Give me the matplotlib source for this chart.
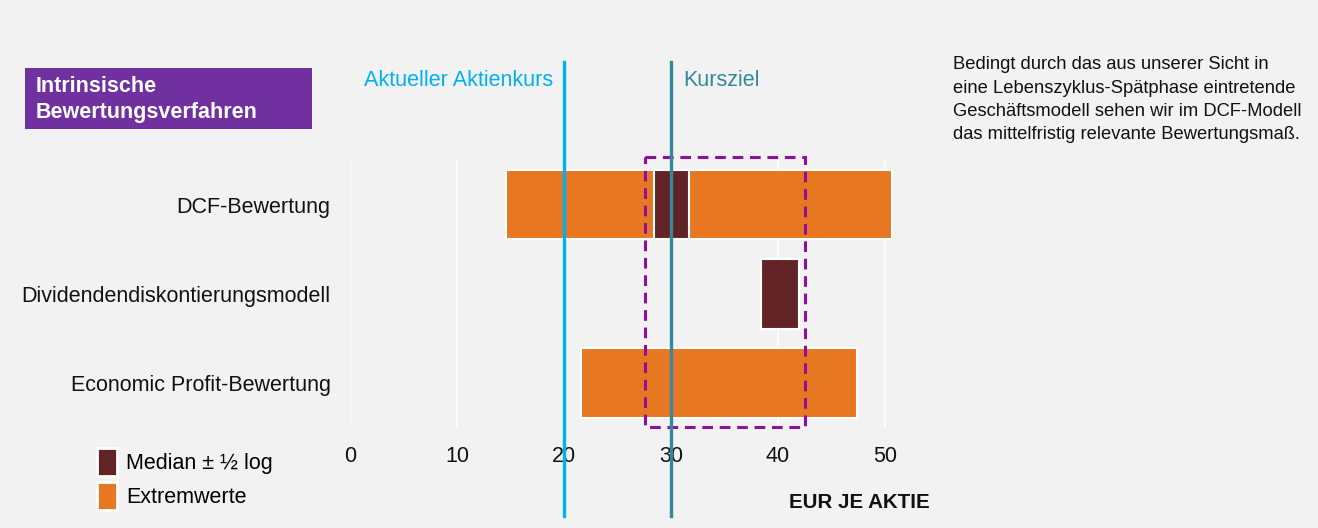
import matplotlib
matplotlib.use('Agg')
import matplotlib.pyplot as plt
import numpy as np
from matplotlib.patches import Patch, Rectangle

# ── Daten ────────────────────────────────────────────────
categories = ['DCF-Bewertung', 'Dividendendiskontierungsmodell', 'Economic Profit-Bewertung']
extreme_low = [14.6, np.nan, 21.6]
extreme_high = [50.7, np.nan, 47.4]
median_low = [28.4, 38.4, np.nan]
median_high = [31.7, 42.0, np.nan]
x_ticks = [0, 10, 20, 30, 40, 50]
current_price = 20.0
target_price = 30.0
target_range = (27.6, 42.5)

# ── Farben ───────────────────────────────────────────────
COLORS = {
    'orange': '#E87722',
    'maroon': '#622326',
    'blue': '#00B0F0',
    'teal': '#35889A',
    'dash': '#8C0FA0',
    'purple': '#7030A0',
    'bg': '#F2F2F2',
    'text': '#111111',
}

plt.rcParams['font.family'] = ['Liberation Sans', 'DejaVu Sans']
FS = 15.5

fig = plt.figure(figsize=(13.18, 5.28), dpi=100, facecolor=COLORS['bg'])
ax = fig.add_axes([0.2656, 0.1894, 0.4219, 0.5076], facecolor=COLORS['bg'])

y = np.arange(len(categories))
ext_lo = np.array(extreme_low)
ext_hi = np.array(extreme_high)
med_lo = np.array(median_low)
med_hi = np.array(median_high)

ax.barh(y, ext_hi - ext_lo, left=ext_lo, height=0.78, color=COLORS['orange'],
        edgecolor='white', linewidth=1.5, zorder=2)
ax.barh(y, med_hi - med_lo, left=med_lo, height=0.78, color=COLORS['maroon'],
        edgecolor='white', linewidth=1.5, zorder=3)

ax.set_xlim(0, 52)
ax.set_ylim(len(categories) - 0.5, -0.5)
ax.set_xticks(x_ticks)
ax.set_yticks(y)
ax.set_yticklabels(categories)
ax.tick_params(axis='both', length=0, labelsize=FS, colors=COLORS['text'])
ax.tick_params(axis='y', pad=14)
ax.tick_params(axis='x', pad=13)
for s in ax.spines.values():
    s.set_visible(False)
ax.grid(axis='x', color='white', linewidth=1.2, zorder=0)
ax.set_axisbelow(True)

# Zielbereich (gestrichelt)
ax.add_patch(Rectangle((target_range[0], -0.53), target_range[1] - target_range[0], 3.02,
                       fill=False, edgecolor=COLORS['dash'], linewidth=2.2,
                       linestyle=(0, (3.5, 2.2)), zorder=4, clip_on=False))

# Kurslinien
ax.axvline(current_price, ymin=-0.33, ymax=1.365, color=COLORS['blue'], linewidth=2.4,
           zorder=5, clip_on=False)
ax.axvline(target_price, ymin=-0.33, ymax=1.365, color=COLORS['teal'], linewidth=2.4,
           zorder=5, clip_on=False)
trans = ax.get_xaxis_transform()
ax.text(current_price - 1.0, 1.298, 'Aktueller Aktienkurs', transform=trans, ha='right',
        va='center', fontsize=FS, color=COLORS['blue'])
ax.text(target_price + 1.2, 1.298, 'Kursziel', transform=trans, ha='left',
        va='center', fontsize=FS, color=COLORS['teal'])

# Titelbox
fig.patches.append(Rectangle((0.019, 0.7557), 0.2178, 0.1155, transform=fig.transFigure,
                             facecolor=COLORS['purple'], edgecolor='none', zorder=0))
fig.text(0.0273, 0.812, 'Intrinsische\nBewertungsverfahren', ha='left', va='center',
         fontsize=FS, fontweight='bold', color='white', linespacing=1.32)

# Kommentar rechts
fig.text(0.723, 0.893,
         'Bedingt durch das aus unserer Sicht in\n'
         'eine Lebenszyklus-Spätphase eintretende\n'
         'Geschäftsmodell sehen wir im DCF-Modell\n'
         'das mittelfristig relevante Bewertungsmaß.',
         ha='left', va='top', fontsize=13.2, color=COLORS['text'], linespacing=1.48)

# Achsentitel
fig.text(930 / 1318, 1 - 502 / 528, 'EUR JE AKTIE', ha='right', va='center',
         fontsize=FS * 0.95, fontweight='bold', color=COLORS['text'])

# Legende
handles = [Patch(facecolor=COLORS['maroon'], edgecolor='white', linewidth=2),
           Patch(facecolor=COLORS['orange'], edgecolor='white', linewidth=2)]
fig.legend(handles, ['Median ± ½ log', 'Extremwerte'], loc='upper left',
           bbox_to_anchor=(97 / 1318, 1 - 448 / 528), frameon=False, fontsize=FS,
           handlelength=0.95, handleheight=1.6, handletextpad=0.42,
           labelspacing=0.3, borderpad=0, borderaxespad=0)

fig.savefig('out.png', dpi=100, facecolor=COLORS['bg'])
